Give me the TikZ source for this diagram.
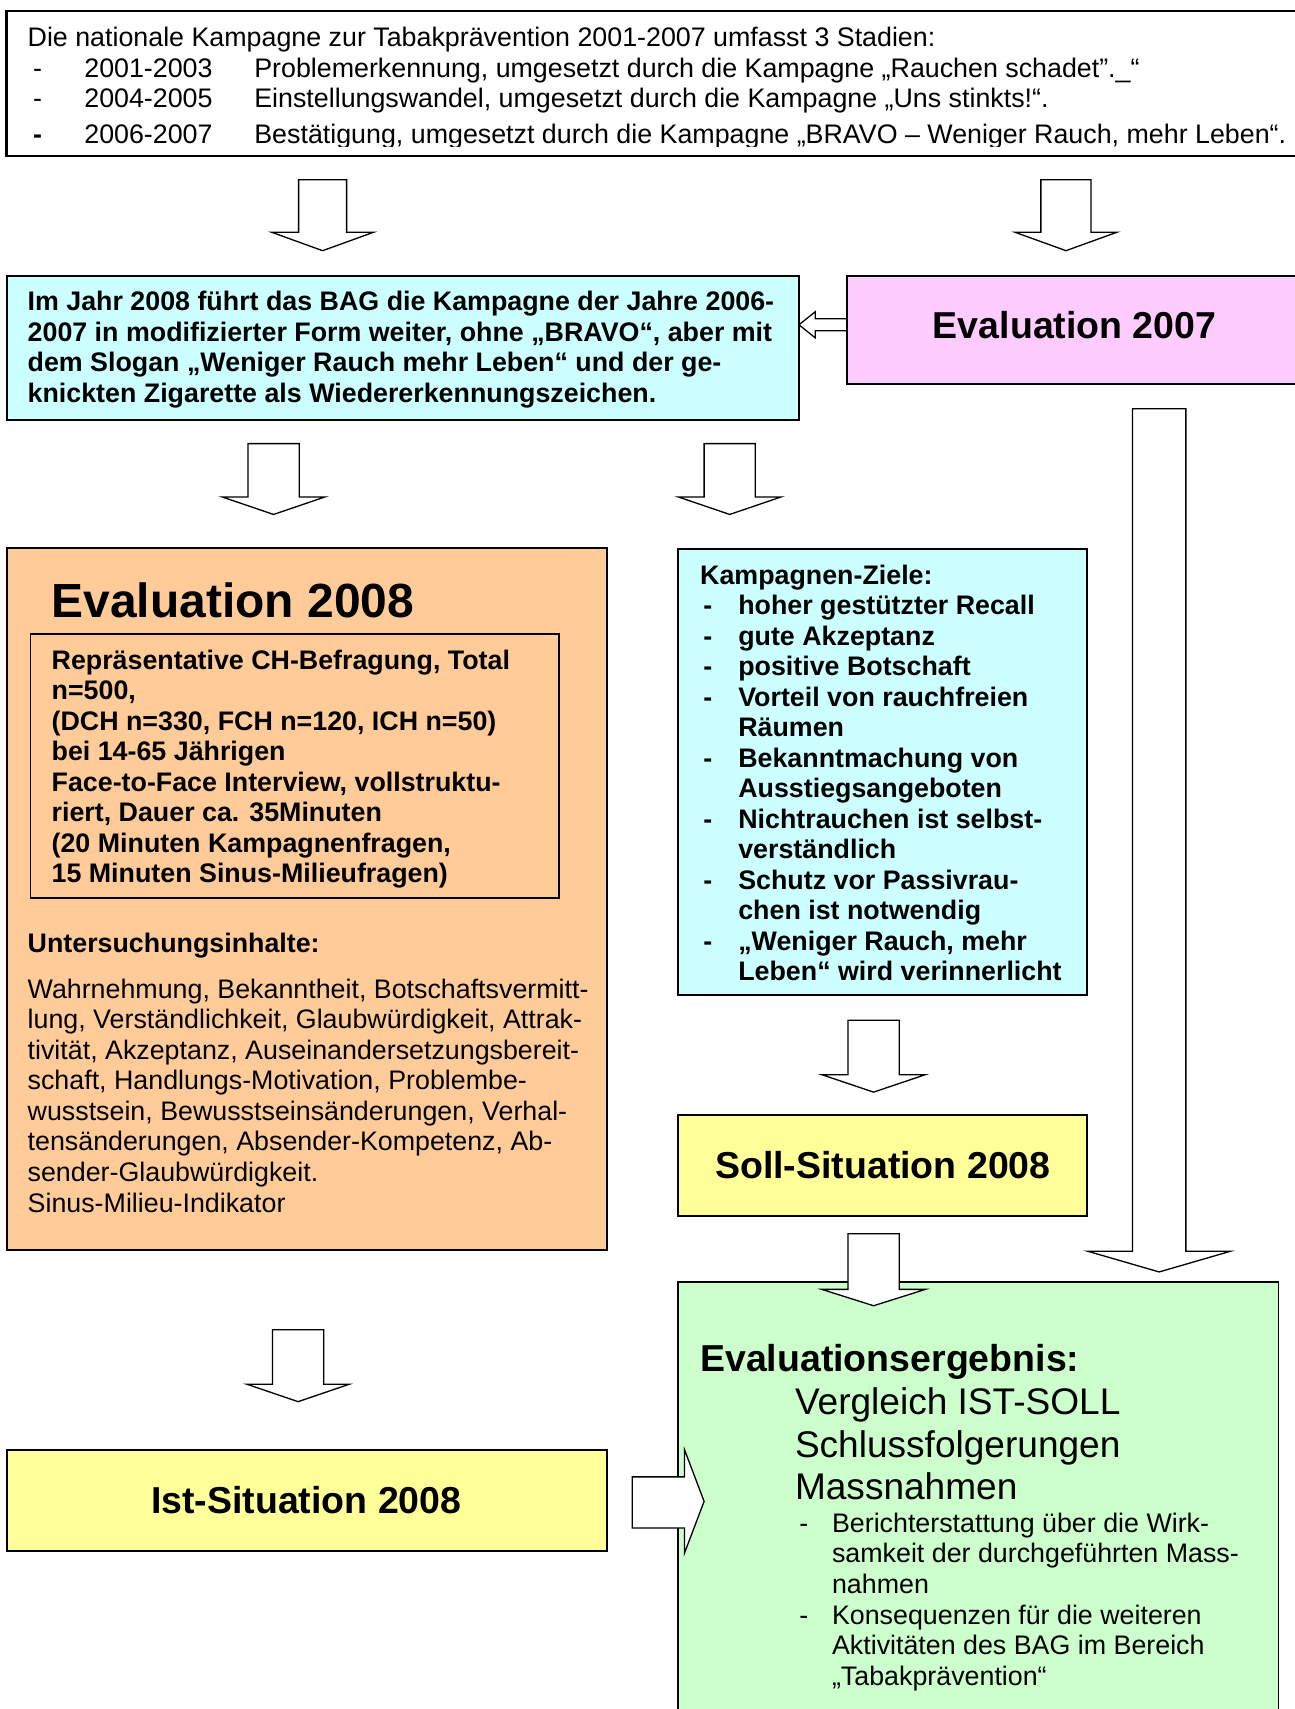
\documentclass[tikz,border=0pt]{standalone}
\usepackage{fontspec}
\setmainfont{Liberation Sans}
\definecolor{cyanbox}{HTML}{CCFFFF}
\definecolor{pinkbox}{HTML}{FFCCFF}
\definecolor{peachbox}{HTML}{FFCC99}
\definecolor{yellowbox}{HTML}{FFFF99}
\definecolor{greenbox}{HTML}{CCFFCC}
\newcommand{\ZDash}{\makebox[17.5pt][l]{\hspace{1.5pt}-}}
\newcommand{\ZInd}{\hspace*{17.5pt}}
\newcommand{\GDash}{\makebox[15pt][l]{-}}
\newcommand{\GInd}{\hspace*{15pt}}
\newcommand{\BDown}[6]{%
  \draw[barrow] (#1-#3,#2) -- (#1+#3,#2) -- (#1+#3,#4) -- (#1+#5,#4) -- (#1,#6) -- (#1-#5,#4) -- (#1-#3,#4) -- cycle;}
\begin{document}
\begin{tikzpicture}[x=0.5pt,y=-0.5pt,
  box/.style={draw=black, line width=0.9pt},
  barrow/.style={draw=black, fill=white, line width=0.6pt, line join=miter},
  t12/.style={inner sep=0pt, anchor=base west, align=left, font=\fontsize{12.3}{14}\selectfont},
  t12b/.style={inner sep=0pt, anchor=base west, align=left, font=\fontsize{12.3}{14}\selectfont\bfseries},
  bigb/.style={inner sep=0pt, font=\fontsize{17.2}{19.5}\selectfont\bfseries},
  bigr/.style={inner sep=0pt, anchor=base west, align=left, font=\fontsize{17}{19.5}\selectfont}]
\useasboundingbox (0,0) rectangle (1188,1568);
% boxes
\path[box, line width=1pt, fill=white] (6,10) rectangle (1200,143);
\path[box, fill=cyanbox] (6,253) rectangle (733,385);
\path[box, fill=pinkbox] (777,253) rectangle (1200,352);
\path[box, fill=peachbox] (6,503) rectangle (557,1147);
\path[box] (28,582) rectangle (513,824);
\path[box, fill=cyanbox] (622,504) rectangle (997,913);
\path[box, fill=yellowbox] (622,1023) rectangle (997,1116);
\path[box, fill=greenbox] (622,1176) rectangle (1173,1600);
\path[box, fill=yellowbox] (6,1330) rectangle (557,1423);
% block arrows
\BDown{296}{165}{22}{213}{47}{230}
\BDown{978}{165}{23}{213}{47}{230}
\BDown{251}{407}{23.5}{456}{47}{472}
\BDown{669.5}{407}{23.5}{456}{47}{472}
\BDown{1063.5}{375}{24.5}{1148}{65.5}{1167}
\BDown{801.5}{936}{23.5}{986}{47.5}{1002}
\BDown{801.5}{1132}{23.5}{1183}{47.5}{1198}
\BDown{273.5}{1220}{23.5}{1270}{47}{1286}
\draw[barrow] (777,292.5) -- (748,292.5) -- (748,286) -- (733,298) -- (748,310) -- (748,303.5) -- (777,303.5) -- cycle;
\draw[barrow] (580,1355) -- (628,1355) -- (628,1330) -- (646,1377.5) -- (628,1425) -- (628,1402) -- (580,1402) -- cycle;
% texts (base anchor = baseline of the last line)
\begin{scope}
\clip (0,0) rectangle (1188,134.5);
\node[t12] (intro) at (25,132) {Die nationale Kampagne zur Tabakprävention 2001-2007 umfasst 3 Stadien:\\
\makebox[26pt][l]{\hspace{2.5pt}-}\makebox[78pt][l]{2001-2003}Problemerkennung, umgesetzt durch die Kampagne „Rauchen schadet\char34.\_“\\
\makebox[26pt][l]{\hspace{2.5pt}-}\makebox[78pt][l]{2004-2005}Einstellungswandel, umgesetzt durch die Kampagne „Uns stinkts!“.\\[2.5pt]
\makebox[26pt][l]{\hspace{2.5pt}\textbf{-}}\makebox[78pt][l]{2006-2007}Bestätigung, umgesetzt durch die Kampagne „BRAVO – Weniger Rauch, mehr Leben“.};
\end{scope}
\node[t12b] (bag) at (25,369) {Im Jahr 2008 führt das BAG die Kampagne der Jahre 2006-\\2007 in modifizierter Form weiter, ohne „BRAVO“, aber mit\\dem Slogan „Weniger Rauch mehr Leben“ und der ge-\\knickten Zigarette als Wiedererkennungszeichen.};
\node[bigb] (evseven) at (986,298) {Evaluation 2007};
\node[inner sep=0pt, anchor=base west, font=\fontsize{22}{26}\selectfont\bfseries] (eveight) at (47,567) {Evaluation 2008};
\node[t12b] (befr) at (47,810) {Repräsentative CH-Befragung, Total\\n=500,\\(DCH n=330, FCH n=120, ICH n=50)\\bei 14-65 Jährigen\\Face-to-Face Interview, vollstruktu-\\riert, Dauer ca. 35Minuten\\(20 Minuten Kampagnenfragen,\\15 Minuten Sinus-Milieufragen)};
\node[t12b] (unt) at (25,874) {Untersuchungsinhalte:};
\node[t12] (inh) at (25,1112) {Wahrnehmung, Bekanntheit, Botschaftsvermitt-\\lung, Verständlichkeit, Glaubwürdigkeit, Attrak-\\tivität, Akzeptanz, Auseinandersetzungsbereit-\\schaft, Handlungs-Motivation, Problembe-\\wusstsein, Bewusstseinsänderungen, Verhal-\\tensänderungen, Absender-Kompetenz, Ab-\\sender-Glaubwürdigkeit.\\Sinus-Milieu-Indikator};
\node[t12b] (ziele) at (642,900) {Kampagnen-Ziele:\\
\ZDash hoher gestützter Recall\\
\ZDash gute Akzeptanz\\
\ZDash positive Botschaft\\
\ZDash Vorteil von rauchfreien\\
\ZInd Räumen\\
\ZDash Bekanntmachung von\\
\ZInd Ausstiegsangeboten\\
\ZDash Nichtrauchen ist selbst-\\
\ZInd verständlich\\
\ZDash Schutz vor Passivrau-\\
\ZInd chen ist notwendig\\
\ZDash „Weniger Rauch, mehr\\
\ZInd Leben“ wird verinnerlicht};
\node[bigb] (soll) at (810,1069) {Soll-Situation 2008};
\node[bigb] (ist) at (281,1376) {Ist-Situation 2008};
\node[bigb, anchor=base west] (erg) at (642,1258) {Evaluationsergebnis:};
\node[bigr] (verg) at (729,1376) {Vergleich IST-SOLL\\Schlussfolgerungen\\Massnahmen};
\node[t12] (bull) at (733,1546) {\GDash Berichterstattung über die Wirk-\\
\GInd samkeit der durchgeführten Mass-\\
\GInd nahmen\\
\GDash Konsequenzen für die weiteren\\
\GInd Aktivitäten des BAG im Bereich\\
\GInd „Tabakprävention“};
\end{tikzpicture}
\end{document}
